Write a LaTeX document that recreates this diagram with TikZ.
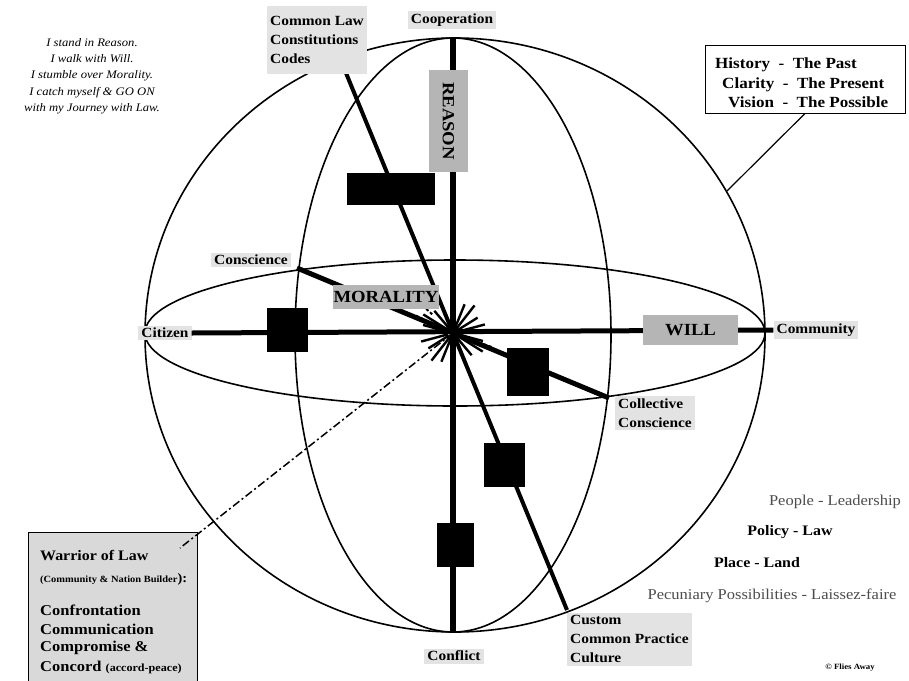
\documentclass[tikz,border=0pt]{standalone}
\usepackage{fontspec}
\setmainfont{Liberation Serif}[FakeStretch=1.1]
\newcommand{\fsz}[2]{\fontsize{#1}{#2}\selectfont}
\begin{document}
\begin{tikzpicture}[x=1pt,y=-1pt,
  lab/.style={fill=gray!22, inner xsep=3pt, inner ysep=2.5pt, font=\fsz{14}{19}\bfseries},
  blk/.style={fill=black, inner sep=0pt},
  tag/.style={fill=gray!58, inner sep=0pt, font=\fsz{17}{18}\bfseries, text=black},
  orb/.style={line width=1.6pt},
  axis/.style={line width=#1, line cap=butt},
  spike/.style={line width=2.4pt},
  note/.style={inner sep=0pt},
  warline/.style={inner sep=0pt, anchor=west, font=\fsz{15}{18}\bfseries}]

\useasboundingbox (0,0) rectangle (909,680);
\fill[white] (0,0) rectangle (909,680);

% key points
\coordinate (O) at (453,333);
\coordinate (top) at (453,38);
\coordinate (bot) at (453,632);
\coordinate (cs1) at (297,268);
\coordinate (cs2) at (609,398);
\coordinate (cl1) at (339,56);
\coordinate (cl2) at (567,610);
\coordinate (hc) at (727,191);
\coordinate (wend) at (180,548);

% sphere
\draw[orb] (455,335) ellipse [x radius=310, y radius=297];
\draw[orb] (455,333) ellipse [x radius=310, y radius=73];
\draw[orb] (453,335) ellipse [x radius=158, y radius=297];

% labels on the sphere
\node[lab] (coop) at (452,20) {Cooperation};
\node[lab] (consc) at (251,260) {Conscience};
\node[lab] (citz) at (165,333) {Citizen};
\node[lab] (comm) at (816,330) {Community};
\node[lab, align=left, anchor=north west] (coll) at (615,396) {Collective\\Conscience};
\node[lab] (confl) at (454,656) {Conflict};
\node[lab, align=left, anchor=north west] (cust) at (567,613) {Custom\\Common Practice\\Culture};

% axes
\draw[axis=6pt] (top) -- (bot);
\draw[axis=5pt] (citz.east) -- (comm.west);
\draw[axis=4pt] (cl1) -- (cl2);
\draw[axis=5pt] (cs1) -- (cs2);
\node[lab, align=left, anchor=north west, inner ysep=10pt] (claw) at (267,6) {Common Law\\Constitutions\\Codes};

% starburst
\foreach \a/\l in {15/26,32/30,50/24,68/28,112/26,128/30,148/24,165/28,195/26,212/30,230/24,248/28,292/26,308/30,328/24,345/28}
  \draw[spike] (O) ++(\a:5) -- ++(\a:\l);
\foreach \a in {205,222,20}
  \draw[line width=2pt, dash pattern=on 3pt off 2pt] (O) ++(\a:28) -- ++(\a:14);

% boxes on the axes
\node[blk, minimum width=88, minimum height=32] (b1) at (391,189) {};
\node[blk, minimum width=41, minimum height=44] (b2) at (287.5,330) {};
\node[blk, minimum width=42, minimum height=48] (b3) at (528,372) {};
\node[blk, minimum width=41, minimum height=44] (b4) at (504.5,465) {};
\node[blk, minimum width=37, minimum height=44] (b5) at (455.5,545) {};
\node[tag, rotate=-90, minimum width=102, minimum height=39] (reason) at (448.5,121) {REASON};
\node[tag, minimum width=106, minimum height=24] (moral) at (386,297) {MORALITY};
\node[tag, minimum width=95, minimum height=30] (will) at (690.5,330) {WILL};

% time box
\node[draw, line width=0.9pt, minimum width=200, minimum height=68, inner sep=0pt] (hist) at (805,79) {};
\node[note, anchor=north west, align=left, font=\fsz{15.5}{19.5}\bfseries] (histt) at (715,58)
  {History \ -\ \ The Past\\\hspace*{7pt}Clarity \ -\ \ The Present\\\hspace*{13pt}Vision \ -\ \ The Possible};
\draw[line width=1.2pt] (hist.south) -- (hc);

% poem
\node[note, align=center, font=\fsz{11.5}{16.3}\itshape] (poem) at (92,76)
  {I stand in Reason.\\I walk with Will.\\I stumble over Morality.\\I catch myself \& GO ON\\with my Journey with Law.};

% right side text
\node[note, font=\fsz{15}{18}, text=black!70] (people) at (835,502) {People - Leadership};
\node[note, font=\fsz{14.5}{18}\bfseries] (policy) at (790,532) {Policy - Law};
\node[note, font=\fsz{14.5}{18}\bfseries] (place) at (757,563) {Place - Land};
\node[note, font=\fsz{15}{18}, text=black!70] (pecun) at (772,596) {Pecuniary Possibilities - Laissez-faire};
\node[note, font=\fsz{8}{10}\bfseries] (copy) at (850,668) {© Flies Away};

% warrior box
\node[draw, line width=1pt, fill=gray!30, minimum width=169, minimum height=156, anchor=north west, inner sep=0pt] (war) at (28,532) {};
\node[warline, font=\fsz{14.5}{17}\bfseries] (w1) at (40,555) {Warrior of Law};
\node[warline, font=\fsz{9.5}{11}\bfseries] (w2) at (40,579) {(Community \& Nation Builder{\fsz{13}{13}\selectfont ):}};
\node[warline] (w3) at (40,610) {Confrontation};
\node[warline] (w4) at (40,629) {Communication};
\node[warline] (w5) at (40,648) {Compromise \&};
\node[warline] (w6) at (40,667) {Concord {\fsz{11}{12}(accord-peace)}};
\draw[line width=1.5pt, dash pattern=on 8pt off 3pt on 2pt off 3pt] (O) -- (wend);

\end{tikzpicture}
\end{document}
